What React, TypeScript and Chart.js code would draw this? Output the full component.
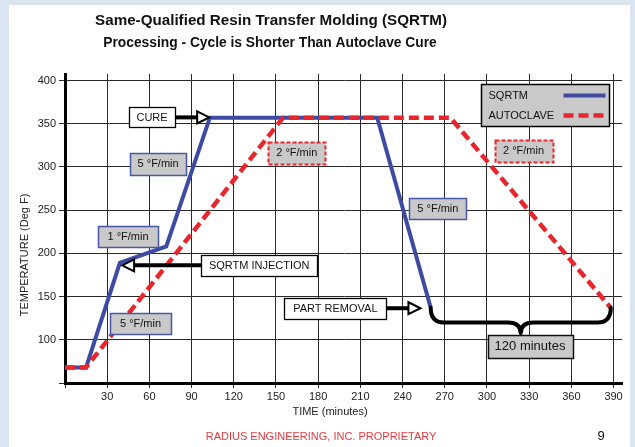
import React, { useEffect, useRef } from 'react';
import { Chart, registerables } from 'chart.js';

Chart.register(...registerables);

const FONT = "'Liberation Sans', Arial, Helvetica, sans-serif";

// ---- data ----
const X_TICKS = [0, 30, 60, 90, 120, 150, 180, 210, 240, 270, 300, 330, 360, 390];
const Y_TICKS = [50, 100, 150, 200, 250, 300, 350, 400];

const SERIES_LABELS = ['SQRTM', 'AUTOCLAVE'];

const SQRTM_TIME = [0, 15, 39, 72, 103, 222, 260];
const SQRTM_TEMP = [68, 68, 189, 208, 357, 357, 137];

const AUTOCLAVE_TIME = [0, 15, 155, 274, 388];
const AUTOCLAVE_TEMP = [68, 68, 357, 357, 137];

const TITLE = 'Same-Qualified Resin Transfer Molding (SQRTM)';
const SUBTITLE = 'Processing - Cycle is Shorter Than Autoclave Cure';
const X_TITLE = 'TIME (minutes)';
const Y_TITLE = 'TEMPERATURE (Deg F)';
const FOOTER = 'RADIUS ENGINEERING, INC. PROPRIETARY';
const PAGE_NUMBER = '9';

// ---- annotation layout (centres in data units, sizes in px) ----
type Box = { text: string; t: number; v: number; w: number; h: number; kind: 'white' | 'blue' | 'red' | 'gray'; size?: number };
const BOXES: Box[] = [
  { text: 'CURE', t: 61.9, v: 357.3, w: 46, h: 20, kind: 'white' },
  { text: '5 °F/min', t: 66.2, v: 303.6, w: 56, h: 22, kind: 'blue' },
  { text: '1 °F/min', t: 44.8, v: 219.8, w: 60, h: 21, kind: 'blue' },
  { text: 'SQRTM INJECTION', t: 138.1, v: 186.2, w: 116, h: 21, kind: 'white' },
  { text: '5 °F/min', t: 53.7, v: 119.2, w: 61, h: 21, kind: 'blue' },
  { text: '2 °F/min', t: 164.8, v: 316.4, w: 57, h: 22, kind: 'red' },
  { text: '5 °F/min', t: 265.1, v: 252.2, w: 57, h: 21, kind: 'blue' },
  { text: '2 °F/min', t: 326, v: 318.7, w: 58, h: 22, kind: 'red' },
  { text: 'PART REMOVAL', t: 192.2, v: 136.5, w: 102, h: 21, kind: 'white' },
  { text: '120 minutes', t: 330.6, v: 92.6, w: 85, h: 23, kind: 'gray', size: 13 },
];
const ARROWS = [
  { box: 0, dir: 1, tipT: 102.5 },
  { box: 3, dir: -1, tipT: 40.6 },
  { box: 8, dir: 1, tipT: 252.7 },
];
const LEGEND_BOX = { t: 341.6, v: 371.9, w: 128, h: 42 };

const BLUE = '#3d4ba3';
const RED = '#e8262c';
const BOX_GRAY = '#c9c9c9';

const decor = {
  id: 'decor',
  afterDatasetsDraw(chart: any) {
    const { ctx } = chart;
    const xs = chart.scales.x;
    const ys = chart.scales.y;
    const px = (t: number) => xs.getPixelForValue(t);
    const py = (v: number) => ys.getPixelForValue(v);
    ctx.save();

    // brace between the two end points
    const sq = chart.getDatasetMeta(0).data;
    const au = chart.getDatasetMeta(1).data;
    const a = sq[sq.length - 1];
    const b = au[au.length - 1];
    const y0 = (a.y + b.y) / 2;
    const d = 14.7;
    const d2 = 25.3;
    const r = 13;
    const xm = (a.x + b.x) / 2;
    ctx.beginPath();
    ctx.moveTo(a.x, y0);
    ctx.quadraticCurveTo(a.x, y0 + d, a.x + r, y0 + d);
    ctx.lineTo(xm - r, y0 + d);
    ctx.quadraticCurveTo(xm, y0 + d, xm, y0 + d2);
    ctx.quadraticCurveTo(xm, y0 + d, xm + r, y0 + d);
    ctx.lineTo(b.x - r, y0 + d);
    ctx.quadraticCurveTo(b.x, y0 + d, b.x, y0);
    ctx.strokeStyle = '#000';
    ctx.lineWidth = 4;
    ctx.lineCap = 'round';
    ctx.lineJoin = 'round';
    ctx.stroke();

    // arrows
    ARROWS.forEach((ar) => {
      const bx = BOXES[ar.box];
      const cx = px(bx.t);
      const cy = py(bx.v);
      const startX = cx + ar.dir * bx.w / 2;
      const tipX = px(ar.tipT);
      const headLen = 12;
      const baseX = tipX - ar.dir * headLen;
      ctx.beginPath();
      ctx.moveTo(startX, cy);
      ctx.lineTo(baseX, cy);
      ctx.lineWidth = 4;
      ctx.lineCap = 'butt';
      ctx.strokeStyle = '#000';
      ctx.stroke();
      ctx.beginPath();
      ctx.moveTo(tipX, cy);
      ctx.lineTo(baseX, cy - 6);
      ctx.lineTo(baseX, cy + 6);
      ctx.closePath();
      ctx.fillStyle = '#fff';
      ctx.fill();
      ctx.lineWidth = 2;
      ctx.lineJoin = 'miter';
      ctx.stroke();
    });

    // boxes
    BOXES.forEach((bx) => {
      const cx = px(bx.t);
      const cy = py(bx.v);
      const l = Math.round(cx - bx.w / 2) + 0.5;
      const tp = Math.round(cy - bx.h / 2) + 0.5;
      ctx.setLineDash([]);
      ctx.fillStyle = bx.kind === 'white' ? '#fff' : BOX_GRAY;
      ctx.fillRect(l, tp, bx.w, bx.h);
      if (bx.kind === 'white') {
        ctx.strokeStyle = '#000';
        ctx.lineWidth = 1.3;
      } else if (bx.kind === 'blue') {
        ctx.strokeStyle = '#4a57a8';
        ctx.lineWidth = 1.5;
      } else if (bx.kind === 'red') {
        ctx.strokeStyle = RED;
        ctx.lineWidth = 2;
        ctx.setLineDash([4, 2]);
      } else {
        ctx.strokeStyle = '#111';
        ctx.lineWidth = 1.5;
      }
      ctx.strokeRect(l, tp, bx.w, bx.h);
      ctx.setLineDash([]);
      ctx.fillStyle = '#111';
      ctx.font = `${bx.size || 11}px ${FONT}`;
      ctx.textAlign = 'center';
      ctx.textBaseline = 'middle';
      ctx.fillText(bx.text, cx, cy + 0.5);
    });

    // legend
    const lcx = px(LEGEND_BOX.t);
    const lcy = py(LEGEND_BOX.v);
    const ll = Math.round(lcx - LEGEND_BOX.w / 2) + 0.5;
    const lt = Math.round(lcy - LEGEND_BOX.h / 2) + 0.5;
    ctx.fillStyle = BOX_GRAY;
    ctx.fillRect(ll, lt, LEGEND_BOX.w, LEGEND_BOX.h);
    ctx.strokeStyle = '#000';
    ctx.lineWidth = 1.5;
    ctx.strokeRect(ll, lt, LEGEND_BOX.w, LEGEND_BOX.h);
    chart.data.datasets.forEach((ds: any, i: number) => {
      const rowY = lt + 11 + i * 20;
      ctx.fillStyle = '#111';
      ctx.font = `11px ${FONT}`;
      ctx.textAlign = 'left';
      ctx.textBaseline = 'middle';
      ctx.fillText(ds.label, ll + 7, rowY);
      ctx.beginPath();
      ctx.moveTo(ll + LEGEND_BOX.w - 46, rowY);
      ctx.lineTo(ll + LEGEND_BOX.w - 4, rowY);
      ctx.strokeStyle = ds.borderColor;
      ctx.lineWidth = ds.borderWidth;
      ctx.lineCap = 'butt';
      ctx.setLineDash(ds.borderDash || []);
      ctx.stroke();
      ctx.setLineDash([]);
    });

    ctx.restore();
  },
  afterDraw(chart: any) {
    const { ctx } = chart;
    ctx.save();
    ctx.fillStyle = '#111';
    ctx.textAlign = 'center';
    ctx.textBaseline = 'middle';
    ctx.font = `bold 15.2px ${FONT}`;
    ctx.fillText(TITLE, 271, 21);
    ctx.font = `bold 13.8px ${FONT}`;
    ctx.fillText(SUBTITLE, 270, 43);

    ctx.font = `11px ${FONT}`;
    ctx.fillStyle = '#222';
    ctx.fillText(X_TITLE, 330, 412);

    ctx.save();
    ctx.translate(25, 255);
    ctx.rotate(-Math.PI / 2);
    ctx.fillText(Y_TITLE, 0, 0);
    ctx.restore();

    ctx.fillStyle = '#e8383d';
    ctx.fillText(FOOTER, 321, 437);
    ctx.fillStyle = '#111';
    ctx.font = `13px ${FONT}`;
    ctx.fillText(PAGE_NUMBER, 601, 436);
    ctx.restore();
  },
};

export default function App() {
  const ref = useRef<HTMLCanvasElement | null>(null);
  useEffect(() => {
    if (!ref.current) return;
    const chart = new Chart(ref.current, {
      type: 'line',
      data: {
        datasets: [
          {
            label: SERIES_LABELS[0],
            data: SQRTM_TIME.map((t, i) => ({ x: t, y: SQRTM_TEMP[i] })),
            borderColor: BLUE,
            borderWidth: 4,
            pointRadius: 0,
            tension: 0,
            order: 1,
          },
          {
            label: SERIES_LABELS[1],
            data: AUTOCLAVE_TIME.map((t, i) => ({ x: t, y: AUTOCLAVE_TEMP[i] })),
            borderColor: RED,
            borderWidth: 4.5,
            borderDash: [10, 5],
            pointRadius: 0,
            tension: 0,
            order: 0,
          },
        ],
      },
      options: {
        animation: false,
        responsive: false,
        devicePixelRatio: 1,
        layout: { padding: { left: 0, right: 13, top: 74, bottom: 0 } },
        plugins: {
          legend: { display: false },
          tooltip: { enabled: false },
          title: { display: false },
        },
        scales: {
          x: {
            type: 'linear',
            min: 0,
            max: 396,
            afterBuildTicks: (s: any) => {
              s.ticks = X_TICKS.map((v) => ({ value: v }));
            },
            afterFit: (s: any) => {
              s.height = 64;
            },
            grid: { color: '#2a2a2a', lineWidth: 1, tickLength: 5 },
            border: { display: true, width: 3, color: '#000' },
            ticks: {
              autoSkip: false,
              maxRotation: 0,
              padding: 2,
              color: '#222',
              font: { family: FONT, size: 11 },
              callback: (v: any) => (v === 0 ? '' : String(v)),
            },
          },
          y: {
            type: 'linear',
            min: 50,
            max: 407.5,
            afterBuildTicks: (s: any) => {
              s.ticks = Y_TICKS.map((v) => ({ value: v }));
            },
            afterFit: (s: any) => {
              s.width = 65;
            },
            grid: { color: '#2a2a2a', lineWidth: 1, tickLength: 6 },
            border: { display: true, width: 3, color: '#000' },
            ticks: {
              autoSkip: false,
              padding: 3,
              color: '#222',
              font: { family: FONT, size: 11 },
              callback: (v: any) => (v === 50 ? '' : String(v)),
            },
          },
        },
      },
      plugins: [decor],
    } as any);
    return () => chart.destroy();
  }, []);

  return (
    <div style={{ position: 'fixed', left: 0, top: 0, width: 635, height: 447, background: '#dbe5ef', overflow: 'hidden' }}>
      <div style={{ position: 'absolute', left: 9, top: 5, width: 621, height: 442, background: '#ffffff' }} />
      <canvas ref={ref} width={635} height={447} style={{ position: 'absolute', left: 0, top: 0, width: 635, height: 447 }} />
    </div>
  );
}
